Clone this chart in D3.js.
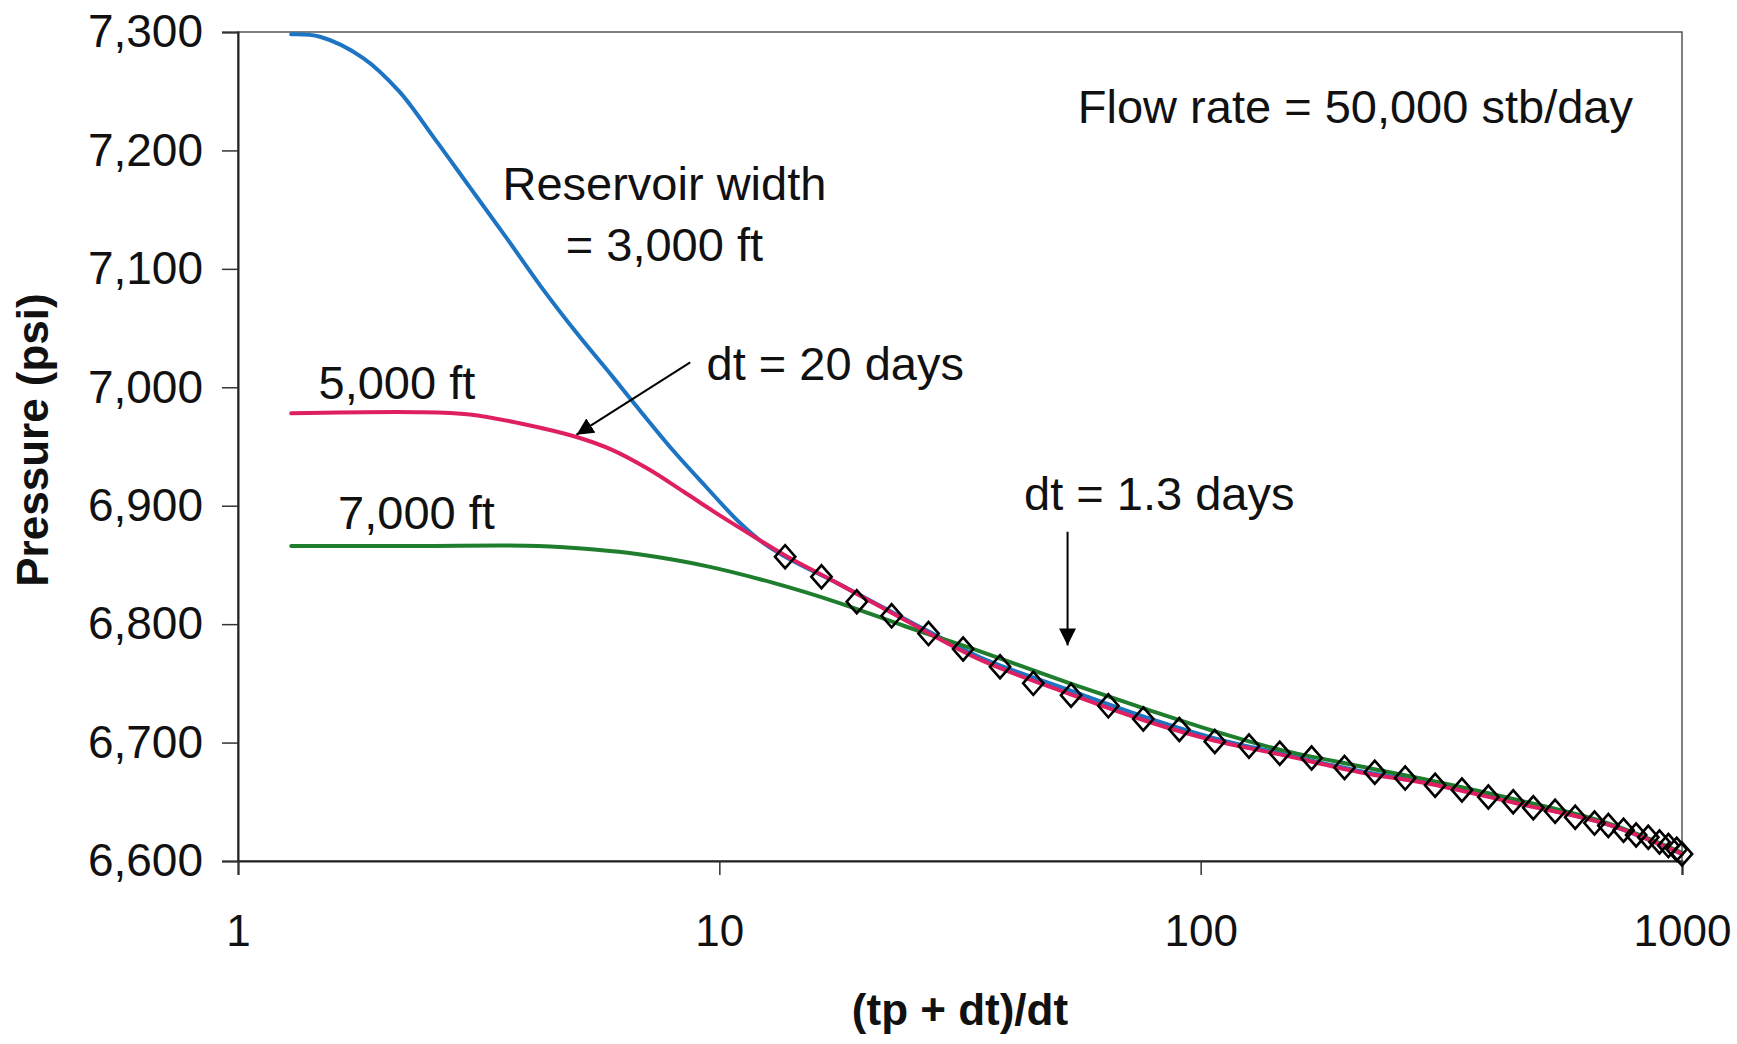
<!DOCTYPE html>
<html>
<head>
<meta charset="utf-8">
<script src="https://cdn.jsdelivr.net/npm/d3@7"></script>
<style>
    body { margin: 0; background: #ffffff; }
    svg text { font-family: "Liberation Sans", Arial, Helvetica, sans-serif; fill: #111; }
</style>
</head>
<body>
<div id="chart"></div>
<script>
// Horner-plot data: x = (tp + dt)/dt, y = pressure (psi)
const width3000X = [1.29, 1.48, 1.82, 2.16, 2.55, 3.03, 3.6, 4.26, 5.05, 6.0, 6.82, 8.0, 9.38, 11.0, 12.3, 13.7, 17.7, 24.4, 34.8, 53.5, 77.3, 106, 146, 214, 300, 450, 700, 1000];
const width3000P = [7298, 7296, 7278, 7250, 7211, 7169, 7127, 7085, 7046, 7009, 6981, 6947, 6916, 6886, 6869, 6857, 6834, 6804, 6772, 6744, 6721, 6704, 6691, 6676, 6666, 6650, 6631, 6606];

const width5000X = [1.29, 2.35, 3.03, 3.91, 5.05, 6.0, 7.12, 8.42, 10, 11.9, 13.7, 17.7, 24.4, 34.8, 53.5, 77.3, 106, 146, 214, 300, 450, 700, 1000];
const width5000P = [6978, 6979, 6977, 6969, 6958, 6947, 6931, 6912, 6892, 6873, 6858, 6834, 6803, 6770, 6741, 6718, 6702, 6690, 6675, 6665, 6649, 6631, 6606];

const width7000X = [1.29, 2.35, 4.2, 5.5, 6.8, 9.4, 12.9, 17.7, 24.4, 34.8, 53.5, 77.3, 106, 146, 214, 300, 450, 700, 1000];
const width7000P = [6866, 6866, 6866, 6863, 6859, 6849, 6835, 6818, 6798, 6777, 6750, 6728, 6710, 6694, 6680, 6668, 6652, 6632, 6607];

// diamond markers
const markerX = [13.7, 16.3, 19.3, 22.8, 27.2, 32.1, 38.3, 44.9, 53.8, 64.3, 76.0, 90.3, 107, 126, 146, 170, 199, 230, 266, 307, 349, 396, 446, 491, 545, 600, 658, 703, 756, 803, 851, 898, 937, 975, 1000];
const markerP = [6857, 6840, 6819, 6807, 6792, 6779, 6764, 6750, 6740, 6731, 6720, 6711, 6701, 6697, 6691, 6687, 6679, 6675, 6670, 6664, 6660, 6654, 6650, 6645, 6642, 6637, 6632, 6630, 6626, 6622, 6620, 6616, 6613, 6610, 6606];

// axis ticks
const xTicks = [1, 10, 100, 1000];
const yTicks = [6600, 6700, 6800, 6900, 7000, 7100, 7200, 7300];

// series list (drawn in this order)
const series = [
    { name: "3,000 ft", xs: width3000X, ps: width3000P, color: "#1c74c2" },
    { name: "7,000 ft", xs: width7000X, ps: width7000P, color: "#1f7d2e" },
    { name: "5,000 ft", xs: width5000X, ps: width5000P, color: "#de1f62" }
];

// Chart size and margins
const W = 1737, H = 1044;
const margin = { top: 32, right: 55, bottom: 183, left: 238 };

const svg = d3.select("#chart")
    .append("svg")
    .attr("width", W)
    .attr("height", H);

const x = d3.scaleLog()
    .domain([1, 1000])
    .range([margin.left, W - margin.right]);

const y = d3.scaleLinear()
    .domain([6600, 7300])
    .range([H - margin.bottom, margin.top]);

// Plot frame (top and right edges)
svg.append("rect")
    .attr("x", x(1))
    .attr("y", y(7300))
    .attr("width", x(1000) - x(1))
    .attr("height", y(6600) - y(7300))
    .attr("fill", "none")
    .attr("stroke", "#555")
    .attr("stroke-width", 1.5);

// Y axis
const yAxis = svg.append("g")
    .attr("transform", `translate(${x(1)},0)`)
    .call(d3.axisLeft(y).tickValues(yTicks).tickSize(16).tickPadding(19).tickFormat(d3.format(",")));
yAxis.selectAll("text").style("font-size", "46px");

// X axis
const xAxis = svg.append("g")
    .attr("transform", `translate(0,${y(6600)})`)
    .call(d3.axisBottom(x).tickValues(xTicks).tickSize(14).tickPadding(40).tickFormat(d3.format("d")));
xAxis.selectAll("text").style("font-size", "44px");

svg.selectAll(".domain").attr("stroke", "#222").attr("stroke-width", 2);
svg.selectAll(".tick line").attr("stroke", "#333").attr("stroke-width", 1.5);

// Axis titles
svg.append("text")
    .attr("transform", `translate(33,440) rotate(-90)`)
    .attr("text-anchor", "middle")
    .attr("dy", "0.35em")
    .style("font-size", "44px")
    .style("font-weight", "bold")
    .text("Pressure (psi)");

svg.append("text")
    .attr("x", (x(1) + x(1000)) / 2)
    .attr("y", 1025)
    .attr("text-anchor", "middle")
    .style("font-size", "44px")
    .style("font-weight", "bold")
    .text("(tp + dt)/dt");

// Lines
const line = d3.line()
    .x(d => x(d[0]))
    .y(d => y(d[1]))
    .curve(d3.curveCatmullRom.alpha(0.5));

series.forEach(s => {
    svg.append("path")
        .datum(s.xs.map((v, i) => [v, s.ps[i]]))
        .attr("fill", "none")
        .attr("stroke", s.color)
        .attr("stroke-width", 4)
        .attr("stroke-linejoin", "round")
        .attr("stroke-linecap", "round")
        .attr("d", line);
});

// Diamond markers
const diamond = d3.symbol().type(d3.symbolDiamond2).size(290);
svg.selectAll(".marker")
    .data(markerX.map((v, i) => [v, markerP[i]]))
    .enter()
    .append("path")
    .attr("class", "marker")
    .attr("transform", d => `translate(${x(d[0])},${y(d[1])}) scale(0.95,1.08)`)
    .attr("d", diamond)
    .attr("fill", "none")
    .attr("stroke", "#000")
    .attr("stroke-width", 2.6);

// Arrowhead marker
svg.append("defs").append("marker")
    .attr("id", "arrow")
    .attr("viewBox", "0 0 10 10")
    .attr("refX", 10)
    .attr("refY", 5)
    .attr("markerWidth", 17)
    .attr("markerHeight", 17)
    .attr("markerUnits", "userSpaceOnUse")
    .attr("orient", "auto")
    .append("path")
    .attr("d", "M0,0 L10,5 L0,10 z")
    .attr("fill", "#000");

// Annotation arrows (in data coordinates)
const arrows = [
    { from: [8.7, 7021], to: [5.05, 6960] },
    { from: [52.9, 6878], to: [52.9, 6782] }
];
arrows.forEach(a => {
    svg.append("line")
        .attr("x1", x(a.from[0]))
        .attr("y1", y(a.from[1]))
        .attr("x2", x(a.to[0]))
        .attr("y2", y(a.to[1]))
        .attr("stroke", "#000")
        .attr("stroke-width", 2)
        .attr("marker-end", "url(#arrow)");
});

// Annotation texts (in data coordinates)
const notes = [
    { text: "Flow rate = 50,000 stb/day", at: [791, 7223], anchor: "end" },
    { text: "Reservoir width", at: [7.69, 7158], anchor: "middle" },
    { text: "= 3,000 ft", at: [7.69, 7107], anchor: "middle" },
    { text: "5,000 ft", at: [1.47, 6990], anchor: "start" },
    { text: "7,000 ft", at: [1.614, 6880], anchor: "start" },
    { text: "dt = 20 days", at: [9.41, 7006], anchor: "start" },
    { text: "dt = 1.3 days", at: [42.96, 6896], anchor: "start" }
];
notes.forEach(n => {
    svg.append("text")
        .attr("x", x(n.at[0]))
        .attr("y", y(n.at[1]))
        .attr("text-anchor", n.anchor)
        .style("font-size", "47px")
        .text(n.text);
});
</script>
</body>
</html>
